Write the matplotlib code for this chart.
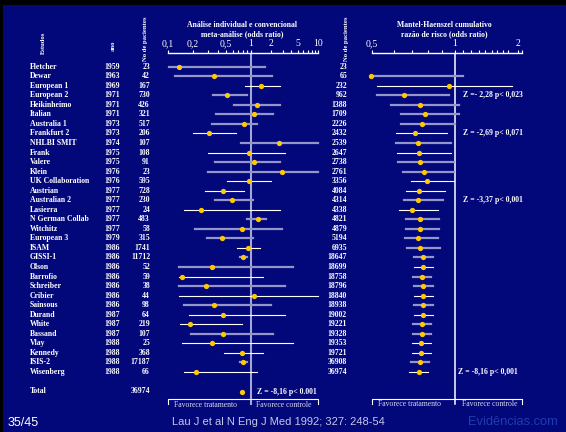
import numpy as np
import matplotlib
matplotlib.use("Agg")
import matplotlib.pyplot as plt
import matplotlib.ticker as plticker
from matplotlib.patches import Rectangle

# ---- data ----
studies = ["Fletcher", "Dewar", "European 1", "European 2", "Heikinheimo", "Italian",
           "Australia 1", "Frankfurt 2", "NHLBI SMIT", "Frank", "Valere", "Klein",
           "UK Collaboration", "Austrian", "Australian 2", "Lasierra", "N German Collab",
           "Witchitz", "European 3", "ISAM", "GISSI-1", "Olson", "Barrofio", "Schreiber",
           "Cribier", "Sainsous", "Durand", "White", "Bassand", "Vlay", "Kennedy",
           "ISIS-2", "Wisenberg"]
years = [1959, 1963, 1969, 1971, 1971, 1971, 1973, 1973, 1974, 1975, 1975, 1976,
         1976, 1977, 1977, 1977, 1977, 1977, 1979, 1986, 1986, 1986, 1986, 1986,
         1986, 1986, 1987, 1987, 1987, 1988, 1988, 1988, 1988]
patients = [23, 42, 167, 730, 426, 321, 517, 206, 107, 108, 91, 23, 595, 728, 230, 24,
            483, 58, 315, 1741, 11712, 52, 59, 38, 44, 98, 64, 219, 107, 25, 368,
            17187, 66]
cum_patients = [23, 65, 232, 962, 1388, 1709, 2226, 2432, 2539, 2647, 2738, 2761,
                3356, 4084, 4314, 4338, 4821, 4879, 5194, 6935, 18647, 18699, 18758,
                18796, 18840, 18938, 19002, 19221, 19328, 19353, 19721, 36908, 36974]
total_patients = 36974

# individual odds ratios with 95% CI
or_ind = [0.134, 0.355, 1.39, 0.519, 1.23, 1.10, 0.824, 0.315, 2.65, 0.937, 1.11, 2.94,
          0.937, 0.456, 0.596, 0.250, 1.26, 0.779, 0.447, 0.912, 0.80, 0.342, 0.148,
          0.287, 1.11, 0.361, 0.460, 0.182, 0.456, 0.342, 0.779, 0.80, 0.217]
lo_ind = [0.104, 0.120, 0.855, 0.352, 0.618, 0.375, 0.336, 0.198, 0.765, 0.306, 0.368,
          0.306, 0.509, 0.282, 0.368, 0.154, 0.903, 0.213, 0.295, 0.672, 0.744, 0.137,
          0.137, 0.137, 0.137, 0.157, 0.177, 0.141, 0.191, 0.149, 0.477, 0.744, 0.157]
hi_ind = [1.64, 2.06, 2.74, 0.895, 2.74, 2.15, 1.22, 0.666, 10.0, 3.18, 2.74, 10.0,
          1.97, 0.824, 1.08, 2.74, 1.66, 2.90, 1.08, 1.36, 0.895, 4.28, 1.53, 3.22,
          10.0, 1.99, 3.22, 0.779, 2.15, 4.28, 1.53, 0.895, 1.22]
or_total = 0.779

# cumulative Mantel-Haenszel odds ratios (first study has none)
or_cum = [np.nan, 0.497, 0.956, 0.653, 0.749, 0.781, 0.762, 0.714, 0.732, 0.739, 0.747,
          0.775, 0.790, 0.739, 0.732, 0.700, 0.745, 0.745, 0.736, 0.749, 0.766, 0.766,
          0.760, 0.766, 0.766, 0.766, 0.766, 0.758, 0.758, 0.755, 0.755, 0.745, 0.739]
lo_cum = [np.nan, 0.497, 0.520, 0.520, 0.587, 0.635, 0.635, 0.612, 0.612, 0.617, 0.622,
          0.649, 0.694, 0.664, 0.655, 0.628, 0.666, 0.666, 0.660, 0.671, 0.710, 0.710,
          0.702, 0.710, 0.710, 0.710, 0.710, 0.702, 0.702, 0.698, 0.698, 0.690, 0.683]
hi_cum = [np.nan, 1.098, 1.88, 0.956, 1.05, 1.05, 1.00, 0.940, 0.967, 0.972, 0.989,
          0.989, 0.989, 0.917, 0.909, 0.869, 0.879, 0.879, 0.869, 0.882, 0.833, 0.833,
          0.822, 0.833, 0.833, 0.833, 0.833, 0.822, 0.822, 0.819, 0.819, 0.808, 0.799]

z_cum_rows = [3, 7, 14, 32]
z_cum_text = ["Z =- 2,28 p< 0,023", "Z = -2,69 p< 0,071", "Z = -3,37 p< 0,001",
              "Z = -8,16 p< 0,001"]
z_total_text = "Z = -8,16 p< 0.001"

# which CI lines are drawn thin white (the rest are thick grey)
white_ind = [2, 7, 9, 12, 13, 15, 19, 22, 24, 26, 27, 29, 30, 32]
white_cum = [2, 7, 9, 12, 13, 15, 21, 24, 26, 29, 30, 32]

# ---- look ----
NAVY = "#02077a"
GREY = "#9496ca"
GOLD = "#ffc800"
SERIF = "Liberation Serif"
FS = 5.6

W, H = 566, 432
ROW0, ROWH = 66.7, 9.54
TOP, BOT = 53, 410
TOTAL_ROW = 34.1


def row_of(py):
    return (py - ROW0) / ROWH


def box(x0, y0, x1, y1):
    return [x0 / W, 1 - y1 / H, (x1 - x0) / W, (y1 - y0) / H]


def split_log(k):
    # log axis whose right half (x>1) is squeezed by k, as on the slide
    def fwd(x):
        v = np.log10(np.clip(np.asarray(x, float), 1e-9, None))
        return np.where(v < 0, v, v * k)

    def inv(y):
        y = np.asarray(y, float)
        return np.where(y < 0, 10.0 ** y, 10.0 ** (y / k))
    return fwd, inv


fig = plt.figure(figsize=(W / 100, H / 100), dpi=100)
fig.patch.set_facecolor("black")

bg = fig.add_axes([0, 0, 1, 1])
bg.set_xlim(0, W)
bg.set_ylim(H, 0)
bg.axis("off")
bg.add_patch(Rectangle((3, 5), W - 3, H - 5, color=NAVY, lw=0))

ylim = (row_of(BOT), row_of(TOP))

tab = fig.add_axes(box(0, TOP, W, BOT))
tab.set_xlim(0, W)
tab.set_ylim(*ylim)
tab.axis("off")
tab.patch.set_alpha(0)

txt = dict(color="white", fontsize=FS, fontweight="bold", family=SERIF, va="center")
for i, (s, yr, n, cn) in enumerate(zip(studies, years, patients, cum_patients)):
    tab.text(30, i, s, ha="left", **txt)
    tab.text(112, i, str(yr), ha="center", **txt)
    tab.text(150, i, str(n), ha="right", **txt)
    tab.text(347, i, str(cn), ha="right", **txt)
tab.text(30, TOTAL_ROW - 0.1, "Total", ha="left", **txt)
tab.text(150, TOTAL_ROW - 0.1, str(total_patients), ha="right", **txt)
tab.text(257, TOTAL_ROW, z_total_text, ha="left", **txt)
for r, t in zip(z_cum_rows, z_cum_text):
    tab.text(463 if r < 30 else 458, r, t, ha="left", **txt)

fav = dict(txt, color="#d8d8ee", fontweight="normal")
tab.text(205, row_of(405.5), "Favorece tratamento", ha="center", **fav)
tab.text(284, row_of(405.5), "Favorece controle", ha="center", **fav)
tab.text(409, row_of(404.5), "Favorece tratamento", ha="center", **fav)
tab.text(490, row_of(404.5), "Favorece controle", ha="center", **fav)

# headers
hdr = dict(color="white", fontsize=FS, fontweight="bold", family=SERIF,
           ha="center", va="center")
hdr_rot = dict(hdr, fontsize=4.8)
bg.text(43, 43, "Estudos", rotation=90, **hdr_rot)
bg.text(113, 46, "ano", rotation=90, **hdr_rot)
bg.text(145.5, 39, "No de pacientes", rotation=90, **hdr_rot)
bg.text(346.5, 39, "No de pacientes", rotation=90, **hdr_rot)
bg.text(242, 25, "Análise individual e convencional", **hdr)
bg.text(242, 34.5, "meta-análise (odds ratio)", **hdr)
bg.text(444, 25, "Mantel-Haenszel cumulativo", **hdr)
bg.text(444, 34.5, "razão de risco (odds ratio)", **hdr)

# footer
bg.text(8, 423, "35/45", color="white", fontsize=9, family="Liberation Sans",
        ha="left", va="center")
bg.text(278, 422, "Lau J et al N Eng J Med 1992; 327: 248-54", color="#c4c8e6",
        fontsize=8, family="Liberation Sans", ha="center", va="center")
bg.text(468, 422, "Evidências.com", color="#1f3cb0", fontsize=9.3,
        family="Liberation Sans", ha="left", va="center")


def forest(ax, xlim, k, majors, labels, minors, ors, los, his, whites, vcolor, vlw):
    ax.set_xscale("function", functions=split_log(k))
    ax.set_xlim(*xlim)
    ax.set_ylim(*ylim)
    ax.patch.set_alpha(0)
    for sp in ["left", "right", "bottom"]:
        ax.spines[sp].set_visible(False)
    ax.spines["top"].set_color("white")
    ax.spines["top"].set_linewidth(1)
    ax.xaxis.set_ticks_position("top")
    ax.xaxis.set_major_locator(plticker.FixedLocator(majors))
    ax.xaxis.set_major_formatter(plticker.FixedFormatter(labels))
    ax.xaxis.set_minor_locator(plticker.FixedLocator(minors))
    ax.xaxis.set_minor_formatter(plticker.NullFormatter())
    ax.tick_params(which="both", direction="out", length=2.4, width=0.8,
                   color="white", pad=1.2, labelsize=7, labelcolor="white")
    for lab in ax.get_xticklabels():
        lab.set_family(SERIF)
    ax.set_yticks([])

    ax.plot([1, 1], [ylim[1], row_of(404)], color=vcolor, lw=vlw, zorder=1)
    yb, ye = row_of(399), row_of(404)
    ax.plot([xlim[0], xlim[0], xlim[1], xlim[1]], [ye, yb, yb, ye],
            color="white", lw=0.8, clip_on=False)

    for i, (o, lo, hi) in enumerate(zip(ors, los, his)):
        if np.isnan(o):
            continue
        if i in whites:
            ax.plot([lo, hi], [i, i], color="white", lw=0.8, zorder=2, clip_on=False)
        else:
            ax.plot([lo, hi], [i, i], color=GREY, lw=1.6, zorder=2, clip_on=False)
        ax.plot(o, i, "o", color=GOLD, ms=3.8, mew=0, zorder=3, clip_on=False)


ax1 = fig.add_axes(box(168, TOP, 318, BOT))
forest(ax1, (0.1, 10), 0.807,
       [0.1, 0.2, 0.5, 1, 2, 5, 10], ["0,1", "0,2", "0,5", "1", "2", "5", "10"],
       [0.3, 0.4, 0.6, 0.7, 0.8, 0.9, 3, 4, 6, 7, 8, 9],
       or_ind, lo_ind, hi_ind, white_ind, "#a4a6d6", 1.5)
ax1.plot(or_total, TOTAL_ROW, "o", color=GOLD, ms=3.8, mew=0, zorder=3)

ax2 = fig.add_axes(box(372, TOP, 522, BOT))
forest(ax2, (0.5, 2.1), 0.757,
       [0.5, 1, 2], ["0,5", "1", "2"],
       [0.6, 0.7, 0.8, 0.9, 1.1, 1.2, 1.3, 1.4, 1.5, 1.6, 1.7, 1.8, 2.1],
       or_cum, lo_cum, hi_cum, white_cum, "white", 1.1)

fig.savefig("out.png", dpi=100, facecolor=fig.get_facecolor())
